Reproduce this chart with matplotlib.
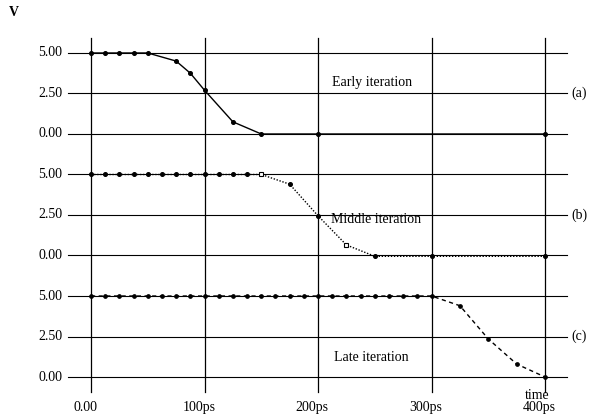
import matplotlib.pyplot as plt

# time points (ps) and node voltages (V) for the three iterations
t_early = [0, 12.5, 25, 37.5, 50, 75, 87.5, 100, 125, 150, 200, 400]
v_early = [5.0, 5.0, 5.0, 5.0, 5.0, 4.5, 3.75, 2.7, 0.75, 0.0, 0.0, 0.0]

t_middle = [0, 12.5, 25, 37.5, 50, 62.5, 75, 87.5, 100, 112.5, 125, 137.5, 150,
            175, 200, 225, 250, 300, 400]
v_middle = [5.0] * 13 + [4.4, 2.45, 0.65, -0.05, -0.05, -0.05]
open_middle = [12, 15]  # points drawn as open squares

t_late = [i * 12.5 for i in range(25)] + [325, 350, 375, 400]
v_late = [5.0] * 25 + [4.4, 2.35, 0.8, 0.0]

levels = [0.0, 2.5, 5.0]
level_labels = ['0.00', '2.50', '5.00']
time_ticks = [0, 100, 200, 300, 400]
time_labels = ['0.00', '100ps', '200ps', '300ps', '400ps']

panel_tags = ['(a)', '(b)', '(c)']
panel_names = ['Early iteration', 'Middle iteration', 'Late iteration']
offsets = [15.0, 7.5, 0.0]  # vertical offset of each panel

plt.rcParams['font.family'] = ['Liberation Serif', 'DejaVu Serif']
plt.rcParams['font.size'] = 10

fig = plt.figure(figsize=(5.91, 4.18), dpi=100)
ax = fig.add_axes([0, 0, 1, 1])
ax.set_xlim(-80.2, 440.5)
ax.set_ylim(-2.53, 23.27)
ax.axis('off')

# grid
for tt in time_ticks:
    ax.plot([tt, tt], [-0.93, 20.9], color='black', lw=0.9, zorder=1)
for off, tag in zip(offsets, panel_tags):
    for lv, lab in zip(levels, level_labels):
        ax.plot([-20, 419], [off + lv, off + lv], color='black', lw=0.8, zorder=1)
        ax.text(-25.5, off + lv, lab, ha='right', va='center')
    ax.text(423, off + 2.5, tag, ha='left', va='center')

# curves
ax.plot(t_early, [v + offsets[0] for v in v_early], color='black', lw=1.0,
        ls='-', marker='o', ms=2.6, zorder=3)
ax.plot(t_middle, [v + offsets[1] for v in v_middle], color='black', lw=1.0,
        ls=(0, (1, 1.2)), marker='o', ms=2.6, zorder=3)
ax.plot([t_middle[i] for i in open_middle],
        [v_middle[i] + offsets[1] for i in open_middle], ls='none',
        marker='s', ms=3, mfc='white', mec='black', mew=0.8, zorder=4)
ax.plot(t_late, [v + offsets[2] for v in v_late], color='black', lw=1.0,
        ls=(0, (3, 2.5)), marker='o', ms=2.4, zorder=3)

# panel captions
ax.text(247.6, offsets[0] + 3.2, panel_names[0], ha='center', va='center')
ax.text(251, offsets[1] + 2.2, panel_names[1], ha='center', va='center')
ax.text(246.7, offsets[2] + 1.2, panel_names[2], ha='center', va='center')

# axis labels
for tt, lab in zip(time_ticks, time_labels):
    ax.text(tt - 5, -1.91, lab, ha='center', va='center')
ax.text(393, -1.15, 'time', ha='center', va='center')
ax.text(-67.8, 22.47, 'V', ha='center', va='center', fontweight='bold')

fig.savefig('out.png', dpi=100)
